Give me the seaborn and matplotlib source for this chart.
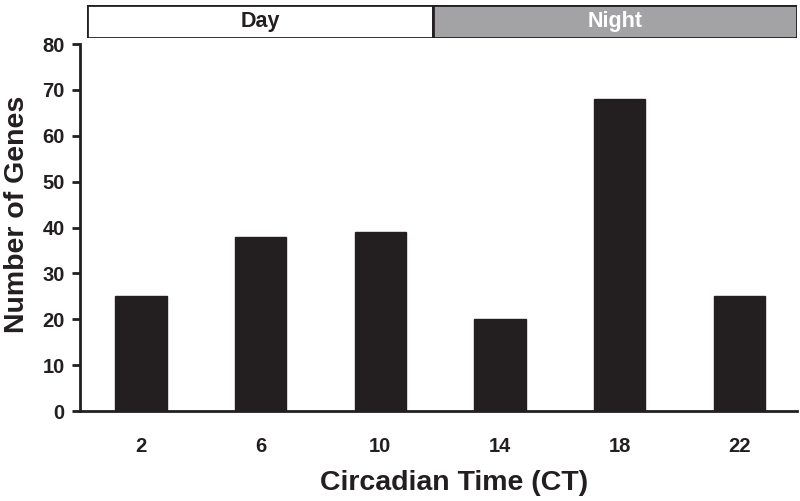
import matplotlib
matplotlib.use("Agg")
import matplotlib.pyplot as plt
import seaborn as sns
import pandas as pd

# valeurs
ct_labels = ["2", "6", "10", "14", "18", "22"]
gene_counts = [25, 38, 39, 20, 68, 25]
phases = ["Day", "Night"]
phase_colors = ["white", "#a3a3a5"]
phase_text = ["#231f20", "white"]

sns.set_style("ticks")
plt.rcParams['font.family'] = ['Liberation Sans', 'DejaVu Sans']
plt.rcParams['font.weight'] = 'bold'

df = pd.DataFrame({'CT': ct_labels, 'Genes': gene_counts})

fig = plt.figure(figsize=(8, 5.01), dpi=100)
ax = fig.add_axes([0.1, 0.1796, 0.896, 0.7325])

sns.barplot(data=df, x='CT', y='Genes', color='#231f20', saturation=1,
            width=0.43, edgecolor='#231f20', ax=ax)

ax.set_xlim(-0.51, 5.48)
ax.set_ylim(0, 80)
ax.set_yticks(range(0, 81, 10))
sns.despine(ax=ax)
ax.spines['left'].set_linewidth(2)
ax.spines['bottom'].set_linewidth(2)
ax.spines['left'].set_color('#231f20')
ax.spines['bottom'].set_color('#231f20')
ax.tick_params(axis='y', length=6, width=2, labelsize=14.5, pad=5, color='#231f20')
ax.tick_params(axis='x', length=0, labelsize=14.5, pad=19)
for lab in ax.get_xticklabels() + ax.get_yticklabels():
    lab.set_fontweight('bold')
    lab.set_color('#231f20')
ax.set_xlabel('Circadian Time (CT)', fontsize=20.5, fontweight='bold', labelpad=10, color='#231f20')
ax.set_ylabel('Number of Genes', fontsize=20.5, fontweight='bold', labelpad=9, color='#231f20')
ax.xaxis.label.set_x(0.522)
ax.yaxis.label.set_y(0.537)

# bandeau jour / nuit
hx = fig.add_axes([0.10875, 0.924, 0.8875, 0.066])
bounds = [(-0.45, 2.44), (2.44, 5.48)]
for (a, b), name, fc, tc in zip(bounds, phases, phase_colors, phase_text):
    hx.axvspan(a, b, facecolor=fc, edgecolor='#231f20', linewidth=2)
    hx.text((a + b) / 2, 0.5, name, ha='center', va='center', fontsize=15.5,
            fontweight='bold', color=tc)
hx.set_xlim(-0.45, 5.48)
hx.set_ylim(0, 1)
hx.axis('off')

fig.savefig('out.png', dpi=100)
